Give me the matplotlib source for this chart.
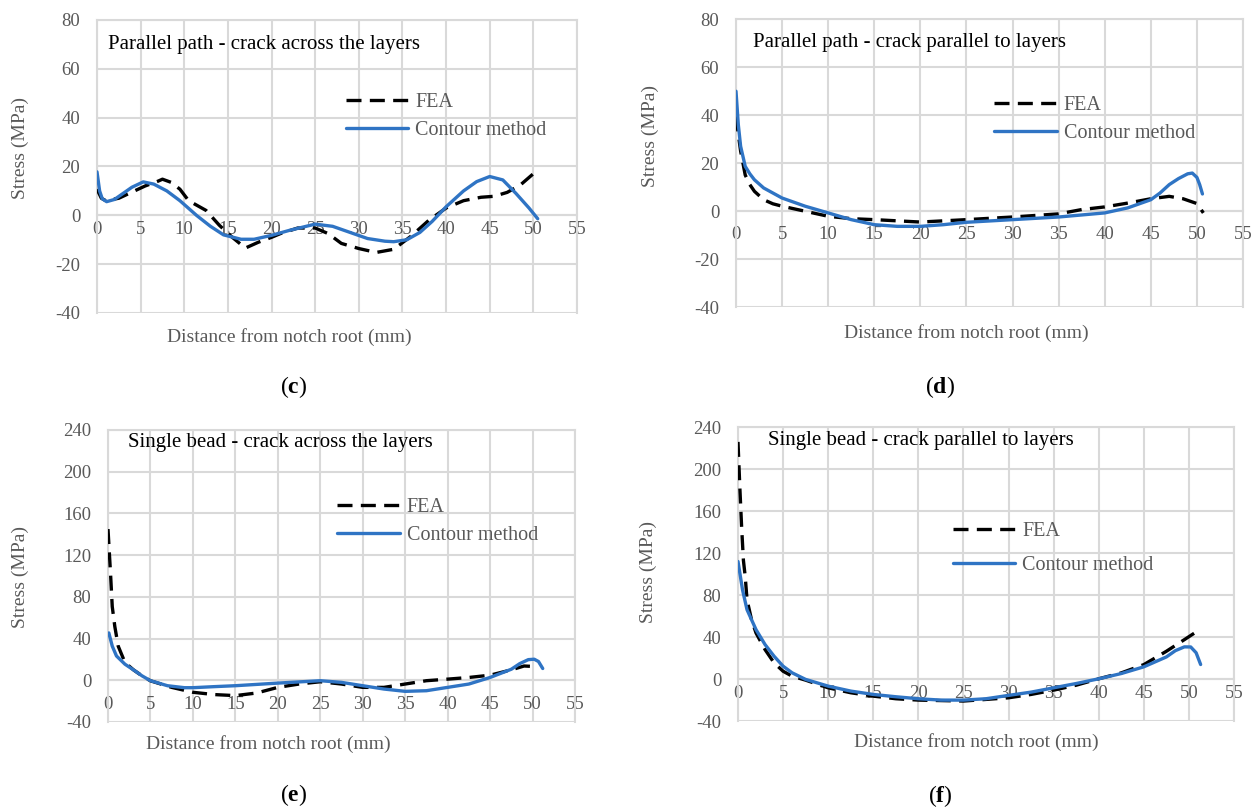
import matplotlib
matplotlib.use("Agg")
import matplotlib.pyplot as plt

plt.rcParams['font.family'] = ['Liberation Serif', 'DejaVu Serif']
plt.rcParams['mathtext.fontset'] = 'custom'
plt.rcParams['mathtext.rm'] = 'Liberation Serif'
plt.rcParams['mathtext.bf'] = 'Liberation Serif:bold'
plt.rcParams['axes.unicode_minus'] = False

W, H = 1259, 809
GRID = '#d9d9d9'
GRAY = '#595959'
BLUE = '#2f74c4'

# ---- (c) parallel path, crack across the layers
c_fea_x = [0, 0.5, 1, 2.5, 4, 5.5, 7, 7.5, 8.5, 9.5, 10.5, 11.5, 12.5, 14, 15.5, 17, 18.5, 20,
           21, 23, 25, 26.5, 28, 30, 32, 34, 36, 38, 40, 42, 44, 45.5, 47, 48.5, 50.5]
c_fea_y = [10.7, 7, 6, 7, 9.5, 12, 14, 14.8, 13.5, 10.7, 6, 4, 2, -4, -9, -13.4, -11, -9,
           -7.5, -5.2, -5.2, -7.5, -11.5, -13.6, -15.2, -13.9, -8.5, -2.1, 3, 6, 7.4, 7.8, 9.4, 12.4, 18.6]
c_cm_x = [0, 0.3, 0.6, 1.1, 2, 3, 4, 5.3, 6.5, 8, 9.5, 11.4, 13, 14.5, 16.5, 18, 20, 22, 25, 27,
          29, 31, 33, 34, 35.5, 37, 38.4, 40, 42, 43.5, 45, 46.5, 48, 49.5, 50.5]
c_cm_y = [17.8, 10, 6.8, 5.6, 6.5, 9, 11.5, 13.7, 12.8, 10, 6, 0, -4.5, -8, -9.8, -9.8, -8.2, -6.2,
          -3.6, -4.5, -7, -9.5, -10.6, -10.8, -10, -7, -2.5, 3.5, 10, 13.8, 15.9, 14.5, 9, 3, -1.4]

# ---- (d) parallel path, crack parallel to layers
d_fea_x = [0, 0.25, 0.5, 1, 1.5, 2, 3, 4, 5, 7.5, 10, 12.5, 15, 20, 25, 30, 35, 37.5, 40,
           42.5, 45, 47, 48.5, 50, 50.7]
d_fea_y = [39.4, 32, 25, 15, 11, 8.2, 4.7, 3, 2, -0.1, -2.2, -3.2, -3.6, -4.6, -3.6, -2.5, -1.2,
           0.6, 1.7, 3.3, 5.1, 6.1, 5.1, 3.1, -0.8]
d_cm_x = [0, 0.25, 0.5, 1, 1.5, 2, 3, 5, 7.5, 10, 12.5, 15, 17.5, 20, 22.5, 25, 30, 35, 40,
          42.5, 45, 46, 47, 48, 49, 49.5, 50, 50.3, 50.6]
d_cm_y = [49.9, 36, 27, 18.6, 15.5, 13, 9.6, 5.4, 2, -0.8, -3.6, -5.7, -6.4, -6.4, -5.7, -4.7,
          -3.6, -2.5, -0.8, 1.3, 4.7, 7.5, 11, 13.5, 15.5, 15.8, 14, 11, 7.1]

# ---- (e) single bead, crack across the layers
e_fea_x = [0, 0.3, 0.5, 0.8, 1.2, 2, 3, 4, 5, 7.5, 10, 12.5, 15, 17.5, 20, 22.5, 25, 27.5, 30,
           32.5, 35, 37.5, 40, 42.5, 45, 47.5, 49, 50.5]
e_fea_y = [145, 102, 70.7, 51.7, 32.8, 17, 10, 4.3, -0.5, -6.8, -11.5, -13.7, -14.7, -12.2, -6.8,
           -3.6, -1.4, -3.6, -6.8, -6.8, -3.6, -0.4, 1.1, 2.7, 4.9, 10, 13.7, 13.1]
e_cm_x = [0.1, 0.5, 1, 2, 3, 4, 5, 7, 9, 10, 12.5, 15, 20, 25, 27.5, 30, 32.5, 35, 37.5, 40,
          42.5, 45, 47.5, 48.5, 49.5, 50.2, 50.7, 51.2]
e_cm_y = [45.4, 32.8, 23.3, 15.4, 10, 4.3, -0.4, -5.2, -7.1, -7.1, -6.1, -5.2, -2.7, -0.4, -2,
          -5.2, -8.4, -10.6, -10, -6.8, -3.6, 2.7, 10.6, 16, 19.8, 20.2, 18, 11.3]

# ---- (f) single bead, crack parallel to layers
f_fea_x = [0, 0.2, 0.4, 0.6, 0.8, 1, 1.5, 2, 3, 4, 5, 6, 7.5, 10, 12.5, 15, 17.5, 20, 25, 30,
           32.5, 35, 37.5, 40, 42.5, 45, 47.5, 49.5, 51.3]
f_fea_y = [225.8, 183, 145, 113, 97.6, 75.5, 56.5, 43.8, 28, 15.4, 7.4, 2.7, -1.1, -8.4, -13.1,
           -16.3, -18.8, -20.1, -21, -17.9, -14.7, -10.6, -5.9, 0.2, 5.8, 13.7, 26.4, 37.5, 47.6]
f_cm_x = [0, 0.5, 1, 2, 3, 4, 5, 6, 7.5, 10, 12.5, 15, 17.5, 20, 22.5, 25, 27.5, 30, 32.5, 35,
          37.5, 40, 42.5, 45, 47.5, 48.5, 49.5, 50.2, 50.8, 51.3]
f_cm_y = [111.9, 85, 66, 47, 32.8, 21.7, 12.2, 5.9, -0.4, -6.8, -11.5, -14.7, -16.9, -18.8, -20.1,
          -20.1, -18.8, -15.6, -12.5, -8.4, -4.3, 0.2, 5.2, 11.6, 21, 27, 30.6, 30.5, 25, 13.8]

x_ticks = list(range(0, 56, 5))
y_ticks_top = list(range(-40, 81, 20))
y_ticks_bot = list(range(-40, 241, 40))

panels = [
    # box in pixels (l, t, r, b), data, yticks, title, legend anchor, label spacing, x-label pad
    dict(box=(97, 20, 577, 313), fea=(c_fea_x, c_fea_y), cm=(c_cm_x, c_cm_y), yt=y_ticks_top,
         title='Parallel path - crack across the layers', title_px=(108, 45),
         leg=(28.5, 40.5), lsp=0.45, xpad=4, ylab=(20, 148), xlab=(289, 337),
         cap='c', cap_px=(294, 387)),
    dict(box=(736, 19, 1243, 307), fea=(d_fea_x, d_fea_y), cm=(d_cm_x, d_cm_y), yt=y_ticks_top,
         title='Parallel path - crack parallel to layers', title_px=(753, 42),
         leg=(28.0, 38.3), lsp=0.45, xpad=11, ylab=(650, 136), xlab=(966, 333),
         cap='d', cap_px=(940, 387)),
    dict(box=(108, 430, 575, 722), fea=(e_fea_x, e_fea_y), cm=(e_cm_x, e_cm_y), yt=y_ticks_bot,
         title='Single bead - crack across the layers', title_px=(128, 443),
         leg=(27.0, 152.5), lsp=0.45, xpad=11, ylab=(20, 577), xlab=(268, 744),
         cap='e', cap_px=(294, 795)),
    dict(box=(738, 427, 1234, 721), fea=(f_fea_x, f_fea_y), cm=(f_cm_x, f_cm_y), yt=y_ticks_bot,
         title='Single bead - crack parallel to layers', title_px=(768, 440),
         leg=(23.8, 124), lsp=0.75, xpad=4, ylab=(648, 572), xlab=(976, 742),
         cap='f', cap_px=(940, 796)),
]

fig = plt.figure(figsize=(W / 100, H / 100), dpi=100)


def fx(px):
    return px / W


def fy(py):
    return 1 - py / H


for p in panels:
    l, t, r, b = p['box']
    ax = fig.add_axes([fx(l), fy(b), (r - l) / W, (b - t) / H])
    yt = p['yt']
    ax.set_xlim(0, 55)
    ax.set_ylim(yt[0], yt[-1])
    ax.set_xticks(x_ticks)
    ax.set_yticks(yt)
    ax.grid(True, color=GRID, linewidth=1.5, zorder=0)
    ax.set_axisbelow(True)
    for s in ['left', 'right', 'top', 'bottom']:
        ax.spines[s].set_color(GRID)
        ax.spines[s].set_linewidth(1.5)
    ax.spines['bottom'].set_position(('data', 0))
    ax.tick_params(length=0, labelsize=13.5, labelcolor=GRAY)
    ax.tick_params(axis='y', pad=12)
    ax.tick_params(axis='x', pad=p['xpad'])

    ax.plot(*p['fea'], color='black', linewidth=2.4, dashes=(4.5, 2.5), label='FEA',
            solid_joinstyle='round', zorder=3)
    ax.plot(*p['cm'], color=BLUE, linewidth=2.4, label='Contour method',
            solid_joinstyle='round', solid_capstyle='round', zorder=4)

    ax.legend(loc='center left', bbox_to_anchor=p['leg'], bbox_transform=ax.transData,
              frameon=False, fontsize=14.5, labelcolor=GRAY, handlelength=3.1,
              handletextpad=0.35, borderpad=0, borderaxespad=0, labelspacing=p['lsp'])

    tx, ty = p['title_px']
    fig.text(fx(tx), fy(ty), p['title'], fontsize=15, color='black', ha='left', va='center')
    lx, ly = p['ylab']
    fig.text(fx(lx), fy(ly), 'Stress (MPa)', fontsize=14, color=GRAY, rotation=90,
             ha='center', va='center')
    xx, xy = p['xlab']
    fig.text(fx(xx), fy(xy), 'Distance from notch root (mm)', fontsize=14, color=GRAY,
             ha='center', va='center')
    cx, cy = p['cap_px']
    fig.text(fx(cx), fy(cy), r'($\mathbf{%s}$)' % p['cap'], fontsize=17, color='black',
             ha='center', va='center')

fig.savefig('out.png', dpi=100, facecolor='white')
